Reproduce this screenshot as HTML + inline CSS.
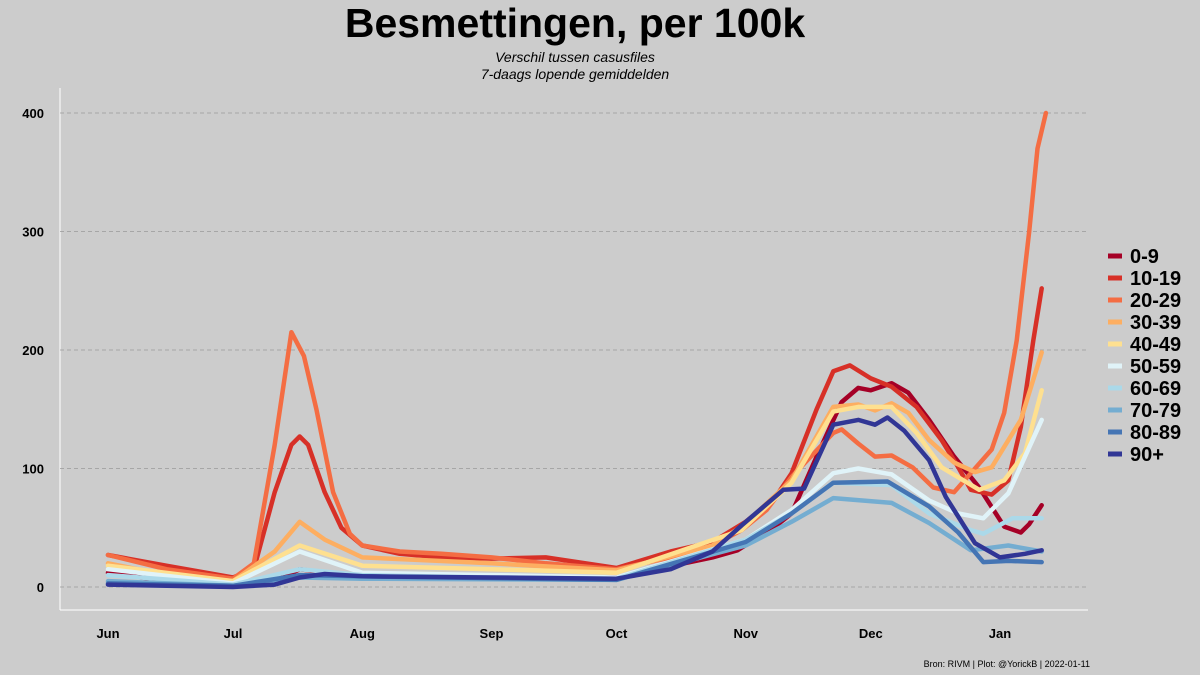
<!DOCTYPE html>
<html><head><meta charset="utf-8"><style>
body{margin:0;background:#cccccc;font-family:"Liberation Sans",sans-serif}
svg{display:block}
</style></head><body>
<svg id="c" width="1200" height="675">
<rect width="1200" height="675" fill="#cccccc"/>
<text x="575" y="37" text-anchor="middle" font-size="41" font-weight="bold">Besmettingen, per 100k</text>
<text x="575" y="62" text-anchor="middle" font-size="14" font-style="italic">Verschil tussen casusfiles</text>
<text x="575" y="79" text-anchor="middle" font-size="14" font-style="italic">7-daags lopende gemiddelden</text>
<text x="1090" y="667" text-anchor="end" font-size="9">Bron: RIVM | Plot: @YorickB  |  2022-01-11</text>
<g id="grid"></g><g id="lines"></g><g id="legend"></g>
</svg>
<script>
const yTicks=[0,100,200,300,400];
const monthLabels=["Jun","Jul","Aug","Sep","Oct","Nov","Dec","Jan"];
const monthDays=[0,30,61,92,122,153,183,214];
const groups=["0-9","10-19","20-29","30-39","40-49","50-59","60-69","70-79","80-89","90+"];
const colors=["#a50026","#d73027","#f46d43","#fdae61","#fee090","#e0f3f8","#abd9e9","#74add1","#4575b4","#313695"];
const s09=[[0,12],[14,5],[30,2],[40,5],[46,15],[52,12],[61,10],[92,8],[122,8],[145,25],[151,31],[160,51],[164,62],[170,110],[176,156],[180,168],[183,166],[188,172],[192,164],[197,141],[203,110],[209,84],[215,51],[219,46],[221,53],[224,69]];
const s1019=[[0,27],[14,18],[30,8],[35,15],[40,80],[44,120],[46,127],[48,120],[52,80],[56,50],[61,35],[70,28],[80,25],[92,24],[105,25],[122,16],[135,30],[145,38],[153,55],[160,75],[164,96],[170,150],[174,182],[178,187],[183,176],[188,169],[194,152],[200,124],[204,101],[207,82],[212,78],[216,90],[219,135],[222,208],[224,252]];
const s2029=[[0,27],[14,15],[30,7],[35,20],[40,120],[44,215],[47,195],[50,150],[54,80],[58,45],[61,35],[70,30],[80,28],[92,25],[105,20],[122,15],[135,25],[145,35],[152,48],[158,65],[164,93],[174,130],[176,133],[180,121],[184,110],[188,111],[193,101],[198,84],[203,80],[207,96],[212,116],[215,147],[218,208],[221,300],[223,370],[225,400]];
const s3039=[[0,20],[14,10],[30,5],[40,30],[46,55],[52,40],[61,25],[92,20],[122,14],[145,35],[152,51],[164,90],[174,152],[180,154],[184,149],[188,155],[192,147],[197,124],[203,105],[208,97],[212,101],[219,141],[224,198]];
const s4049=[[0,18],[30,5],[46,35],[61,18],[92,15],[122,12],[152,48],[164,88],[174,148],[180,152],[188,152],[194,130],[200,101],[209,82],[215,90],[220,113],[224,166]];
const s5059=[[0,15],[30,3],[46,30],[61,12],[92,10],[122,8],[153,40],[164,65],[174,96],[180,100],[188,95],[197,73],[204,62],[210,58],[216,79],[224,141]];
const s6069=[[0,10],[30,2],[46,15],[61,10],[92,8],[122,7],[153,40],[164,62],[174,88],[188,86],[197,62],[207,48],[210,45],[217,58],[224,58]];
const s7079=[[0,5],[30,1],[46,8],[61,7],[122,6],[153,35],[164,55],[174,75],[188,71],[197,54],[207,31],[216,35],[224,30]];
const s8089=[[0,3],[30,1],[46,10],[61,9],[122,6],[153,38],[164,62],[174,88],[187,89],[197,68],[204,46],[210,21],[216,22],[224,21]];
const s90=[[0,2],[30,0],[40,2],[46,8],[52,11],[61,9],[92,8],[122,7],[135,15],[145,30],[152,52],[162,82],[167,83],[174,137],[180,141],[184,137],[187,143],[191,132],[197,107],[201,76],[208,37],[214,25],[220,28],[224,31]];
const series=[s09,s1019,s2029,s3039,s4049,s5059,s6069,s7079,s8089,s90];
const NS="http://www.w3.org/2000/svg";
const x=d=>108+d*(1000-108)/214, y=v=>587-v*1.185;
function mk(t,a,p){const e=document.createElementNS(NS,t);for(const k in a)e.setAttribute(k,a[k]);p.appendChild(e);return e;}
const g=document.getElementById('grid');
mk('line',{x1:60,y1:88,x2:60,y2:610,stroke:'#fff','stroke-width':1},g);
mk('line',{x1:60,y1:610,x2:1088,y2:610,stroke:'#fff','stroke-width':1},g);
yTicks.forEach(v=>{
 const l=mk('line',{x1:60,x2:1088,y1:y(v),y2:y(v),stroke:'#999','stroke-dasharray':'4,3','stroke-width':0.8},g);
 
 
 const t=mk('text',{x:44,y:y(v)+5,'text-anchor':'end','font-size':13,'font-weight':'bold'},g);t.textContent=v;
 
 
});
monthLabels.forEach((m,i)=>{
 const t=mk('text',{x:x(monthDays[i]),y:638,'text-anchor':'middle','font-size':13,'font-weight':'bold'},g);t.textContent=m;
 
 
});
const L=document.getElementById('lines');
series.forEach((s,i)=>{
 const p=mk('polyline',{points:s.map(q=>x(q[0]).toFixed(1)+','+y(q[1]).toFixed(1)).join(' '),fill:'none',stroke:colors[i],'stroke-width':4.5,'stroke-linejoin':'round','stroke-linecap':'round'},L);
 
 
});
const lg=document.getElementById('legend');
groups.forEach((gname,i)=>{
 const yy=256+i*22;
 const r=mk('line',{x1:1108,x2:1122,y1:yy,y2:yy,stroke:colors[i],'stroke-width':5},lg);
 
 
 const t=mk('text',{x:1130,y:yy+7,'font-size':20,'font-weight':'bold'},lg);t.textContent=gname;
 
 
});
</script>
</body></html>
